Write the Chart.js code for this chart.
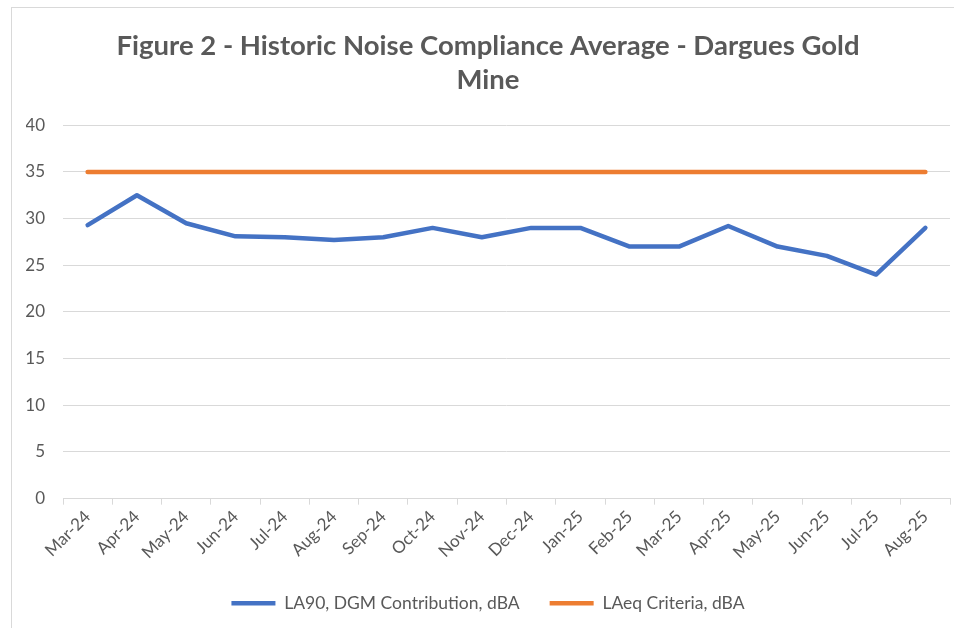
<!DOCTYPE html>
<html>
<head>
<meta charset="utf-8">
<script src="https://cdn.jsdelivr.net/npm/chart.js@4.4.1/dist/chart.umd.min.js"></script>
<style>
  html, body { margin: 0; padding: 0; background: #fff; overflow: hidden; }
  #frame { position: absolute; left: 11px; top: 7px; width: 980px; height: 660px; border: 1px solid #d9d9d9; }
  #wrap { position: absolute; left: 0; top: 0; width: 954px; height: 628px; }
</style>
</head>
<body>
<div id="frame"></div>
<div id="wrap"><canvas id="noiseChart"></canvas></div>
<script>
var months = ['Mar-24', 'Apr-24', 'May-24', 'Jun-24', 'Jul-24', 'Aug-24', 'Sep-24', 'Oct-24', 'Nov-24',
              'Dec-24', 'Jan-25', 'Feb-25', 'Mar-25', 'Apr-25', 'May-25', 'Jun-25', 'Jul-25', 'Aug-25'];
var la90 = [29.3, 32.5, 29.5, 28.1, 28.0, 27.7, 28.0, 29.0, 28.0, 29.0, 29.0, 27.0, 27.0, 29.2, 27.0, 26.0, 24.0, 29.0];
var criteria = [35, 35, 35, 35, 35, 35, 35, 35, 35, 35, 35, 35, 35, 35, 35, 35, 35, 35];

var grey = '#595959';
var gridGrey = '#d9d9d9';

Chart.defaults.font.family = 'Lato, "Open Sans", sans-serif';
Chart.defaults.color = grey;

var ctx = document.getElementById('noiseChart').getContext('2d');
var chart = new Chart(ctx, {
    type: 'line',
    data: {
        labels: months,
        datasets: [{
            label: 'LA90, DGM Contribution, dBA',
            data: la90,
            borderColor: '#4472c4',
            backgroundColor: '#4472c4',
            borderWidth: 4.5,
            borderCapStyle: 'round',
            borderJoinStyle: 'round',
            pointRadius: 0,
            tension: 0
        }, {
            label: 'LAeq Criteria, dBA',
            data: criteria,
            borderColor: '#ed7d31',
            backgroundColor: '#ed7d31',
            borderWidth: 4.5,
            borderCapStyle: 'round',
            borderJoinStyle: 'round',
            pointRadius: 0,
            tension: 0
        }]
    },
    options: {
        responsive: true,
        maintainAspectRatio: false,
        animation: false,
        layout: { padding: { left: 26, right: 4, top: 29, bottom: 6 } },
        plugins: {
            title: {
                display: true,
                text: ['Figure 2 - Historic Noise Compliance Average - Dargues Gold', 'Mine'],
                color: grey,
                font: { size: 27.5, weight: 'bold', lineHeight: 1.24 },
                padding: { top: 0, bottom: 28 }
            },
            legend: {
                position: 'bottom',
                labels: {
                    usePointStyle: true,
                    pointStyle: 'line',
                    pointStyleWidth: 44,
                    boxHeight: 17,
                    padding: 30,
                    color: grey,
                    font: { size: 17.5 }
                }
            },
            tooltip: { enabled: false }
        },
        scales: {
            x: {
                offset: true,
                grid: {
                    offset: true,
                    drawOnChartArea: false,
                    drawTicks: true,
                    tickLength: 6,
                    color: gridGrey
                },
                border: { color: gridGrey, width: 1 },
                ticks: {
                    minRotation: 45,
                    maxRotation: 45,
                    autoSkip: false,
                    padding: 2,
                    color: grey,
                    font: { size: 17 }
                }
            },
            y: {
                min: 0,
                max: 40,
                // keep the axis box tight: label width + padding
                afterFit: function (scale) { scale.width = 37; },
                ticks: { stepSize: 5, padding: 18, color: grey, font: { size: 17 } },
                grid: { color: gridGrey, drawTicks: false },
                border: { display: false }
            }
        }
    }
});
</script>
</body>
</html>
